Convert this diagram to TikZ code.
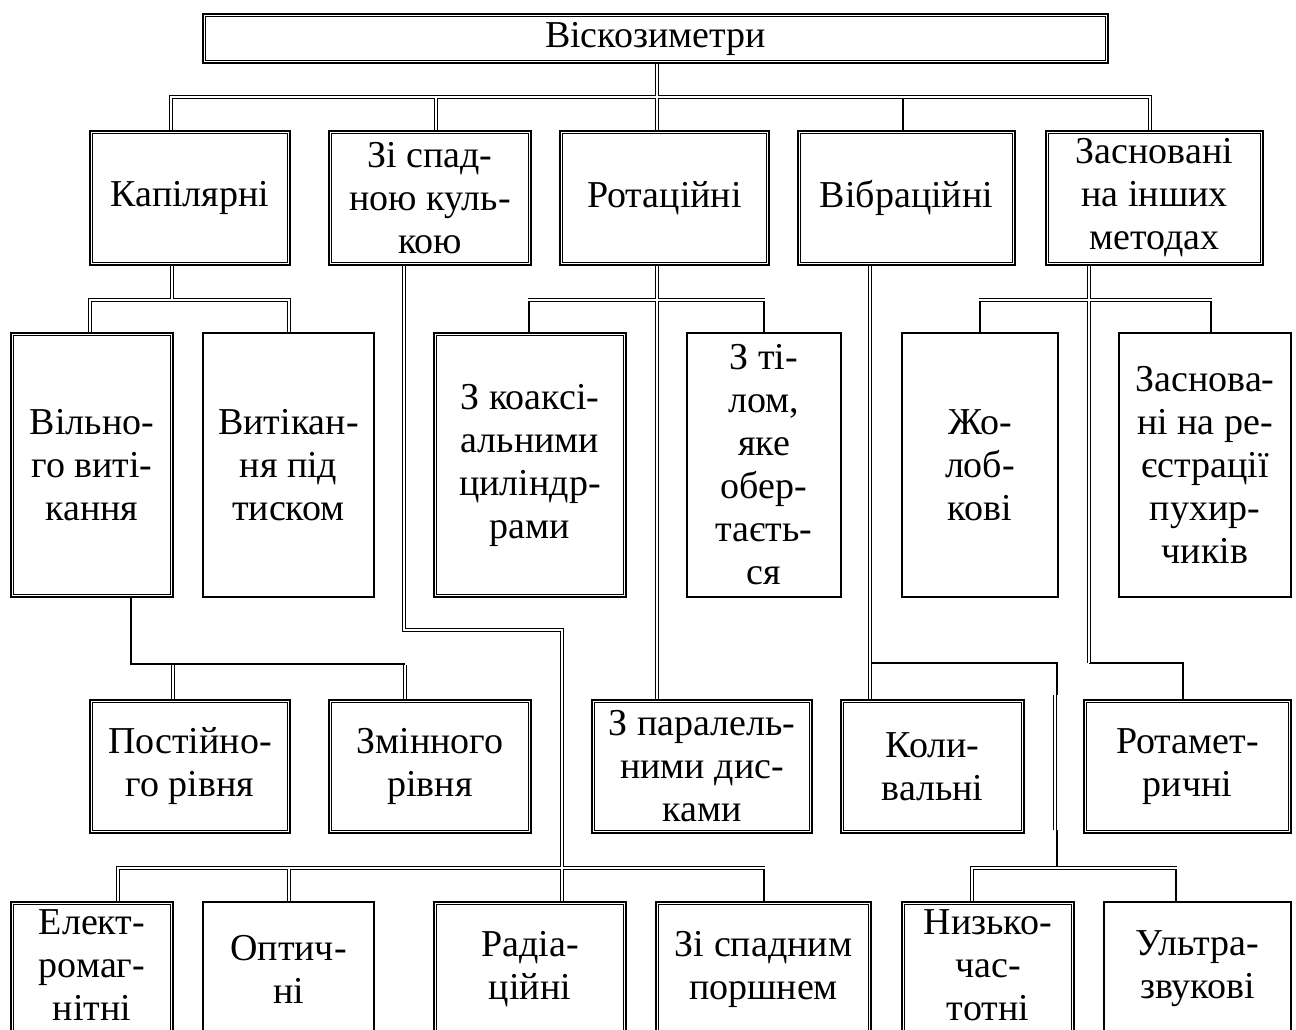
\documentclass[tikz,border=0pt]{standalone}
\usepackage{fontspec}
\setmainfont{Liberation Serif}
\begin{document}
\begin{tikzpicture}[x=1pt,y=-1pt,
  boxbase/.style={draw, line width=2.6pt, fill=white, inner sep=0pt, align=center,
                  font=\fontsize{38}{43}\selectfont},
  dconn/.style={draw, line width=1pt, double, double distance=2.6pt},
  sconn/.style={draw, line width=2.8pt},
  innerline/.style={line width=1pt},
  liftup/.style={text depth=7pt}
]
\useasboundingbox (0,0) rectangle (1296,1030);
\clip (0,0) rectangle (1296,1030);

% ---------- box frames (named first; text boxes drawn on top later) ----------
\begin{scope}[every node/.append style={draw=none, fill=none}]
\path
 node[boxbase, minimum width=905pt, minimum height=49pt] (top) at (655.5,38.5) {}
 node[boxbase, minimum width=200pt, minimum height=134pt] (kap) at (190,198) {}
 node[boxbase, minimum width=202pt, minimum height=134pt] (kul) at (430,198) {}
 node[boxbase, minimum width=209pt, minimum height=134pt] (rot) at (664.5,198) {}
 node[boxbase, minimum width=217pt, minimum height=134pt] (vib) at (906.5,198) {}
 node[boxbase, minimum width=217pt, minimum height=134pt] (zas) at (1154.5,198) {}
 node[boxbase, minimum width=162pt, minimum height=264pt] (vil) at (92,465) {}
 node[boxbase, minimum width=171pt, minimum height=264pt] (vyt) at (288.5,465) {}
 node[boxbase, minimum width=192pt, minimum height=264pt] (koa) at (530,465) {}
 node[boxbase, minimum width=154pt, minimum height=264pt] (til) at (764,465) {}
 node[boxbase, minimum width=156pt, minimum height=264pt] (zhol) at (980,465) {}
 node[boxbase, minimum width=172pt, minimum height=264pt] (reye) at (1205,465) {}
 node[boxbase, minimum width=200pt, minimum height=133pt] (post) at (190,766.5) {}
 node[boxbase, minimum width=202pt, minimum height=133pt] (zmin) at (430,766.5) {}
 node[boxbase, minimum width=220pt, minimum height=133pt] (par) at (702,766.5) {}
 node[boxbase, minimum width=183pt, minimum height=133pt] (kol) at (932.5,766.5) {}
 node[boxbase, minimum width=207pt, minimum height=133pt] (rotm) at (1187.5,766.5) {}
 node[boxbase, minimum width=162pt, minimum height=134pt] (elek) at (92,969) {}
 node[boxbase, minimum width=171pt, minimum height=134pt] (opt) at (288.5,969) {}
 node[boxbase, minimum width=192pt, minimum height=134pt] (rad) at (530,969) {}
 node[boxbase, minimum width=215pt, minimum height=134pt] (porsh) at (763.5,969) {}
 node[boxbase, minimum width=172pt, minimum height=134pt] (nyz) at (988,969) {}
 node[boxbase, minimum width=187pt, minimum height=134pt] (ult) at (1197.5,969) {};
\end{scope}

% ---------- junction coordinates ----------
\coordinate (a1) at (171,97);  \coordinate (a2) at (436,97);
\coordinate (a3) at (657,97);  \coordinate (a4) at (903,97);
\coordinate (a5) at (1150,97);
\coordinate (k0) at (172,300); \coordinate (k1) at (90,300); \coordinate (k2) at (289,300);
\coordinate (r0) at (657,300); \coordinate (r1) at (529,300); \coordinate (r2) at (764,300);
\coordinate (z0) at (1089,300); \coordinate (z1) at (980,300); \coordinate (z2) at (1211,300);
\coordinate (z3) at (1089,663); \coordinate (z4) at (1183,663);
\coordinate (s1) at (404,630); \coordinate (s2) at (562,630);
\coordinate (w0) at (131,664); \coordinate (w1) at (173,665.4); \coordinate (w2) at (405,664);
\coordinate (w3) at (405,665.4);
\coordinate (v0) at (870,663); \coordinate (v1) at (1057,663); \coordinate (v2) at (1057,695);
\coordinate (v3) at (1055,695); \coordinate (v4) at (1055,830); \coordinate (v5) at (1057,830);
\coordinate (v6) at (1057,868);
\coordinate (n1) at (972,868); \coordinate (n2) at (1176,868);
\coordinate (e1) at (118,868); \coordinate (e2) at (289,868); \coordinate (e3) at (764,868);

% ---------- single thick connectors ----------
\draw[sconn] (a4) -- (vib.north -| a4);
\draw[sconn] (r1) -- (koa.north -| r1) (r2) -- (til.north -| r2);
\draw[sconn] (z1) -- (zhol.north -| z1) (z2) -- (reye.north -| z2);
\draw[sconn] (z3) -- (z4) -- (rotm.north -| z4);
\draw[sconn] (vil.south -| w0) -- (w0) -- (w2);
\draw[sconn] (v0) -- (v1) -- (v2) (v5) -- (v6);
\draw[sconn] (n2) -- (ult.north -| n2);
\draw[sconn] (e3) -- (porsh.north -| e3);

% ---------- double connectors ----------
\draw[dconn] (top.south -| a3) -- (rot.north -| a3)
             (kap.north -| a1) -- (a1) -- (a5) -- (zas.north -| a5)
             (a2) -- (kul.north -| a2);
\draw[dconn] (kap.south -| k0) -- (k0)
             (vil.north -| k1) -- (k1) -- (k2) -- (vyt.north -| k2);
\draw[dconn] (rot.south -| r0) -- (par.north -| r0)
             ([xshift=-1.4pt]r1) -- ([xshift=1.4pt]r2);
\draw[dconn] (zas.south -| z0) -- (z3)
             ([xshift=-1.4pt]z1) -- ([xshift=1.4pt]z2);
\draw[dconn] (w1) -- (post.north -| w1) (w3) -- (zmin.north -| w3);
\draw[dconn] (vib.south -| v0) -- (kol.north -| v0) (v3) -- (v4);
\draw[dconn] (nyz.north -| n1) -- (n1) -- ([xshift=1.4pt]n2);
\draw[dconn] (kul.south -| s1) -- (s1) -- (s2) -- (rad.north -| s2)
             (elek.north -| e1) -- (e1) -- ([xshift=1.4pt]e3)
             (e2) -- (opt.north -| e2);

% ---------- boxes with text ----------
\node[boxbase, minimum width=905pt, minimum height=49pt] at (top) {Віскозиметри};
\node[boxbase, minimum width=200pt, minimum height=134pt] at (kap) {Капілярні};
\node[boxbase, minimum width=202pt, minimum height=134pt] at (kul) {Зі спад-\\ною куль-\\кою};
\node[boxbase, minimum width=209pt, minimum height=134pt] at (rot) {Ротаційні};
\node[boxbase, minimum width=217pt, minimum height=134pt] at (vib) {Вібраційні};
\node[boxbase, minimum width=217pt, minimum height=134pt] at (zas) {Засновані\\на інших\\методах};
\node[boxbase, minimum width=162pt, minimum height=264pt] at (vil) {Вільно-\\го виті-\\кання};
\node[boxbase, minimum width=171pt, minimum height=264pt] at (vyt) {Витікан-\\ня під\\тиском};
\node[boxbase, minimum width=192pt, minimum height=264pt] at (koa) {З коаксі-\\альними\\циліндр-\\рами};
\node[boxbase, minimum width=154pt, minimum height=264pt] at (til) {З ті-\\лом,\\яке\\обер-\\таєть-\\ся};
\node[boxbase, minimum width=156pt, minimum height=264pt] at (zhol) {Жо-\\лоб-\\кові};
\node[boxbase, minimum width=172pt, minimum height=264pt] at (reye) {Заснова-\\ні на ре-\\єстрації\\пухир-\\чиків};
\node[boxbase, minimum width=200pt, minimum height=133pt] at (post) {Постійно-\\го рівня};
\node[boxbase, minimum width=202pt, minimum height=133pt] at (zmin) {Змінного\\рівня};
\node[boxbase, minimum width=220pt, minimum height=133pt] at (par) {З паралель-\\ними дис-\\ками};
\node[boxbase, minimum width=183pt, minimum height=133pt] at (kol) {Коли-\\вальні};
\node[boxbase, minimum width=207pt, minimum height=133pt] at (rotm) {Ротамет-\\ричні};
\node[boxbase, liftup, minimum width=162pt, minimum height=134pt] at (elek) {Елект-\\ромаг-\\нітні};
\node[boxbase, minimum width=171pt, minimum height=134pt] at (opt) {Оптич-\\ні};
\node[boxbase, minimum width=192pt, minimum height=134pt] at (rad) {Радіа-\\ційні};
\node[boxbase, minimum width=215pt, minimum height=134pt] at (porsh) {Зі спадним\\поршнем};
\node[boxbase, liftup, minimum width=172pt, minimum height=134pt] at (nyz) {Низько-\\час-\\тотні};
\node[boxbase, minimum width=187pt, minimum height=134pt] at (ult) {Ультра-\\звукові};

% ---------- inner thin lines of double-bordered boxes ----------
\foreach \n in {top,kap,kul,rot,vib,zas,vil,koa,post,zmin,par,kol,rotm,elek,rad,porsh,nyz}
  \draw[innerline] ([xshift=3.4pt,yshift=-3.4pt]\n.north west) rectangle ([xshift=-3.4pt,yshift=3.4pt]\n.south east);
\end{tikzpicture}
\end{document}
